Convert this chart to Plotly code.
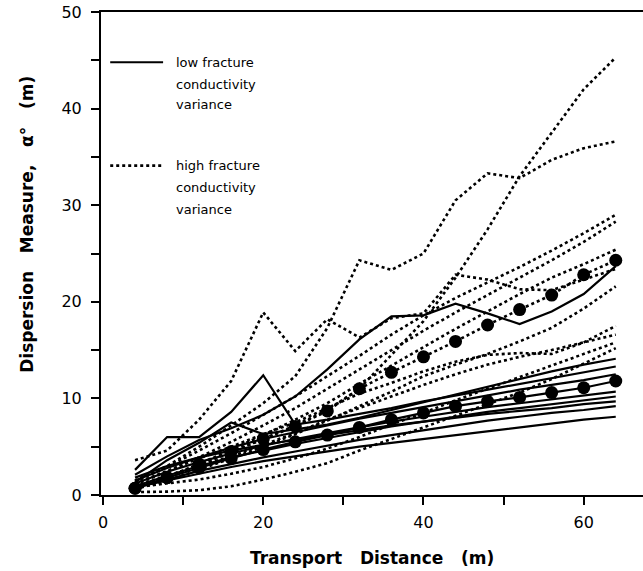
import plotly.graph_objects as go

# transport distance sampled every 4 m
distance = [4, 8, 12, 16, 20, 24, 28, 32, 36, 40, 44, 48, 52, 56, 60, 64]

# low fracture conductivity variance realizations
low_1 = [2.1, 4.0, 5.7, 6.9, 8.3, 10.2, 13.0, 16.1, 18.5, 18.6, 19.8, 18.8, 17.7, 19.0, 20.8, 23.7]
low_2 = [2.6, 6.0, 6.0, 8.6, 12.4, 7.3, 7.8, 8.4, 9.0, 9.7, 10.3, 10.9, 11.5, 12.1, 12.7, 13.3]
low_3 = [1.3, 3.6, 5.4, 7.5, 6.3, 6.8, 7.3, 8.0, 8.8, 9.6, 10.4, 11.2, 12.0, 12.8, 13.5, 14.1]
low_4 = [1.5, 2.8, 3.9, 4.9, 5.8, 6.5, 7.2, 7.9, 8.5, 9.1, 9.7, 10.3, 10.9, 11.4, 11.9, 12.5]
low_5 = [1.2, 2.4, 3.4, 4.3, 5.1, 5.8, 6.4, 7.0, 7.6, 8.1, 8.6, 9.1, 9.5, 9.9, 10.3, 10.7]
low_6 = [0.9, 2.0, 3.0, 3.9, 4.6, 5.3, 5.9, 6.5, 7.1, 7.6, 8.1, 8.6, 9.0, 9.4, 9.8, 10.2]
low_7 = [1.8, 3.0, 3.9, 4.6, 5.2, 5.7, 6.2, 6.7, 7.2, 7.6, 8.0, 8.4, 8.7, 9.0, 9.4, 9.7]
low_8 = [0.7, 1.6, 2.5, 3.2, 3.9, 4.5, 5.1, 5.7, 6.2, 6.7, 7.2, 7.7, 8.1, 8.5, 8.8, 9.2]
low_9 = [0.8, 1.5, 2.2, 2.9, 3.5, 4.0, 4.5, 5.0, 5.4, 5.8, 6.2, 6.6, 7.0, 7.4, 7.8, 8.1]
low_mean = [0.7, 1.8, 2.8, 3.8, 4.7, 5.5, 6.2, 7.0, 7.8, 8.5, 9.2, 9.7, 10.1, 10.6, 11.1, 11.8]

# high fracture conductivity variance realizations
high_1 = [3.6, 4.6, 7.8, 11.8, 18.9, 14.9, 18.2, 16.3, 18.3, 18.8, 22.8, 22.3, 21.3, 21.2, 22.3, 23.4]
high_2 = [0.9, 1.9, 3.1, 4.4, 5.8, 7.2, 8.8, 11.0, 14.5, 18.0, 22.5, 27.5, 33.0, 37.5, 42.0, 45.3]
high_3 = [1.5, 3.0, 5.0, 7.2, 9.5, 12.3, 17.3, 24.3, 23.3, 25.0, 30.5, 33.3, 32.8, 34.7, 35.9, 36.6]
high_4 = [1.4, 2.9, 4.6, 6.4, 8.3, 10.2, 12.3, 14.4, 16.6, 18.6, 20.4, 22.0, 23.6, 25.3, 27.1, 29.0]
high_5 = [1.1, 2.4, 3.9, 5.5, 7.2, 9.0, 11.0, 13.0, 15.0, 17.0, 18.9, 20.7, 22.5, 24.3, 26.2, 28.3]
high_6 = [0.8, 1.9, 3.2, 4.7, 6.2, 7.8, 9.5, 11.5, 13.4, 15.3, 17.2, 19.0, 20.8, 22.5, 23.9, 25.4]
high_7 = [0.6, 1.5, 2.6, 3.8, 5.0, 6.3, 7.7, 9.2, 10.7, 12.3, 13.5, 14.6, 15.9, 17.3, 19.3, 21.6]
high_8 = [1.2, 2.5, 3.8, 5.0, 6.3, 7.5, 9.0, 10.5, 11.6, 12.8, 13.8, 14.5, 14.7, 14.6, 15.8, 17.5]
high_9 = [0.9, 2.0, 3.0, 4.0, 5.2, 6.4, 7.8, 9.0, 10.2, 11.4, 12.5, 13.5, 14.3, 15.0, 15.8, 16.6]
high_10 = [0.3, 0.35, 0.5, 0.9, 1.6, 2.4, 3.3, 4.6, 5.8, 7.0, 8.2, 9.4, 10.6, 12.0, 13.6, 15.2]
high_11 = [0.8, 1.2, 1.6, 2.2, 2.9, 3.8, 4.8, 6.0, 7.3, 8.5, 9.8, 11.0, 12.2, 13.4, 14.6, 15.8]
high_mean = [0.7, 1.8, 3.2, 4.5, 5.8, 7.1, 8.7, 11.0, 12.7, 14.3, 15.9, 17.6, 19.2, 20.7, 22.8, 24.3]

low_runs = [low_1, low_2, low_3, low_4, low_5, low_6, low_7, low_8, low_9]
high_runs = [high_1, high_2, high_3, high_4, high_5, high_6, high_7, high_8, high_9, high_10, high_11]

x_ticks = [0, 10, 20, 30, 40, 50, 60]
x_tick_text = ["0", "", "20", "", "40", "", "60"]
y_ticks = [0, 5, 10, 15, 20, 25, 30, 35, 40, 45, 50]
y_tick_text = ["0", "", "10", "", "20", "", "30", "", "40", "", "50"]

# key: sample line span and the y position of each text row
legend_x = [0.9, 7.5]
legend_text_x = 8.8
low_key_rows = [("low fracture", 44.8), ("conductivity", 42.5), ("variance", 40.4)]
high_key_rows = [("high fracture", 34.1), ("conductivity", 31.8), ("variance", 29.6)]

FONT = "DejaVu Sans"
DOT = "3px,3px"
SP = "\u00a0\u00a0\u00a0"

fig = go.Figure()

for run in high_runs:
    fig.add_trace(go.Scatter(x=distance, y=run, mode="lines",
                             line=dict(color="black", width=2.6, dash=DOT),
                             showlegend=False, hoverinfo="skip"))
for run in low_runs:
    fig.add_trace(go.Scatter(x=distance, y=run, mode="lines",
                             line=dict(color="black", width=2.2),
                             showlegend=False, hoverinfo="skip"))

# ensemble means with filled circles
fig.add_trace(go.Scatter(x=distance, y=low_mean, mode="lines+markers",
                         line=dict(color="black", width=2.2),
                         marker=dict(color="black", size=13),
                         showlegend=False))
fig.add_trace(go.Scatter(x=distance, y=high_mean, mode="lines+markers",
                         line=dict(color="black", width=2.6, dash=DOT),
                         marker=dict(color="black", size=13),
                         showlegend=False))

# in-plot key
fig.add_trace(go.Scatter(x=legend_x, y=[low_key_rows[0][1]] * 2, mode="lines",
                         line=dict(color="black", width=2.2), showlegend=False))
fig.add_trace(go.Scatter(x=legend_x, y=[high_key_rows[0][1]] * 2, mode="lines",
                         line=dict(color="black", width=2.6, dash=DOT), showlegend=False))

key_font = dict(family=FONT, size=13, color="black")
for label, y_row in low_key_rows + high_key_rows:
    fig.add_annotation(x=legend_text_x, y=y_row, xref="x", yref="y", xanchor="left",
                       yanchor="middle", showarrow=False, font=key_font, text=label)

# axis titles
title_font = dict(family=FONT, size=17, color="black")
fig.add_annotation(x=-0.16, y=0.56, xref="paper", yref="paper", textangle=-90,
                   showarrow=False, font=title_font,
                   text="<b>Dispersion" + SP + "Measure," + SP + "α°" + SP + "(m)</b>")
fig.add_annotation(x=0.5, y=-0.155, xref="paper", yref="paper",
                   showarrow=False, font=title_font,
                   text="<b>Transport" + SP + "Distance" + SP + "(m)</b>")

axis_common = dict(showgrid=False, zeroline=False, showline=True, linecolor="black",
                   linewidth=2, ticks="outside", ticklen=8, tickwidth=1.5,
                   tickcolor="black", tickfont=dict(family=FONT, size=16, color="black"))

fig.update_xaxes(range=[-0.25, 67.4], tickmode="array", tickvals=x_ticks,
                 ticktext=x_tick_text, mirror=True, ticklabelstandoff=4, **axis_common)
fig.update_yaxes(range=[0, 50], tickmode="array", tickvals=y_ticks,
                 ticktext=y_tick_text, ticklabelstandoff=6, **axis_common)

fig.update_layout(width=643, height=571, plot_bgcolor="white", paper_bgcolor="white",
                  margin=dict(l=101, r=0, t=12, b=76), showlegend=False)

fig.write_html("out.html")
